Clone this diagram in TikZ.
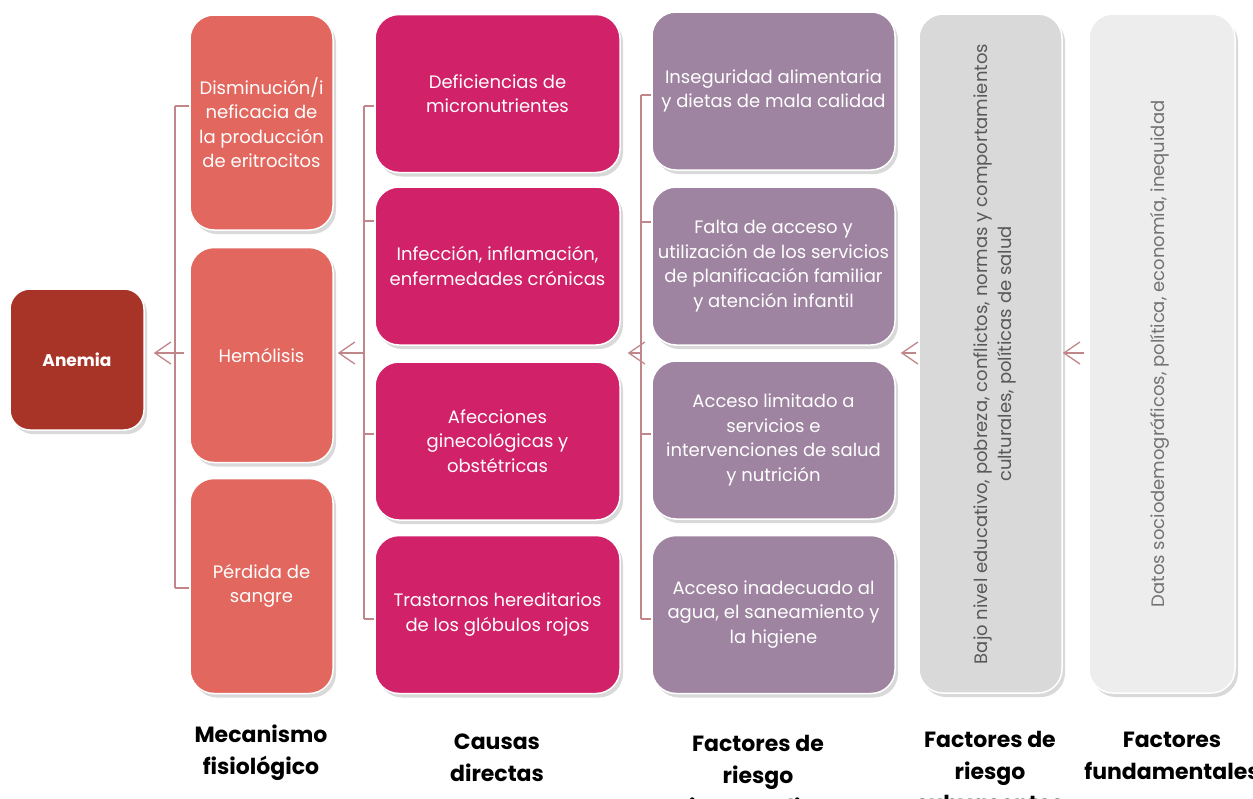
\documentclass[tikz,border=0pt]{standalone}
\usepackage{fontspec}
\setmainfont{Poppins}
\usepackage{tikz}
\usetikzlibrary{arrows.meta, shadows}

\definecolor{anemiared}{RGB}{168,52,40}
\definecolor{mecsalmon}{RGB}{226,103,94}
\definecolor{causapink}{RGB}{209,33,104}
\definecolor{riesgomauve}{RGB}{158,132,160}
\definecolor{subgray}{RGB}{217,217,217}
\definecolor{fundgray}{RGB}{237,237,237}
\definecolor{linkrose}{RGB}{192,134,138}

\tikzset{
  colbox/.style={rounded corners=24pt, draw=white, line width=1.5pt, align=center,
    inner sep=2pt, text=white, font=\fontsize{18}{24.5}\selectfont,
    drop shadow={shadow xshift=3pt, shadow yshift=-4pt, opacity=0.3}},
  link/.style={draw=linkrose, line width=1.3pt},
  arrowlink/.style={link, -{Straight Barb[length=16pt, width=22pt]}},
  sidetext/.style={rotate=90, align=center, inner sep=0pt, font=\fontsize{18}{24.5}\selectfont},
  lbl/.style={align=center, anchor=base, inner sep=0pt, font=\fontsize{22}{32}\selectfont\bfseries}
}

\begin{document}
\begin{tikzpicture}[x=1pt, y=-1pt]
\useasboundingbox (0,0) rectangle (1253,798);
\clip (0,0) rectangle (1253,798);

\node[colbox, fill=anemiared, rounded corners=20pt, minimum width=134pt, minimum height=141pt, font=\fontsize{17}{24.5}\selectfont] (anemia) at (77,359.5) {\bfseries Anemia};

\begin{scope}[every node/.style={colbox, fill=mecsalmon, minimum width=143pt, minimum height=215pt}]
\node (m1) at (261.5,122.5) {Disminución/i\\neficacia de\\la producción\\de eritrocitos};
\node (m2) at (261.5,355) {Hemólisis};
\node (m3) at (261.5,586) {Pérdida de\\sangre};
\end{scope}

\begin{scope}[every node/.style={colbox, fill=causapink, minimum width=245pt, minimum height=158pt}]
\node (c1) at (497.5,93.5) {Deficiencias de\\micronutrientes};
\node (c2) at (497.5,266) {Infección, inflamación,\\enfermedades crónicas};
\node (c3) at (497.5,441) {Afecciones\\ginecológicas y\\obstétricas};
\node (c4) at (497.5,614.5) {Trastornos hereditarios\\de los glóbulos rojos};
\end{scope}

\begin{scope}[every node/.style={colbox, fill=riesgomauve, minimum width=243pt, minimum height=158pt}]
\node (r1) at (773.5,91) {Inseguridad alimentaria\\y dietas de mala calidad};
\node (r2) at (773.5,266) {Falta de acceso y\\utilización de los servicios\\de planificación familiar\\y atención infantil};
\node (r3) at (773.5,440) {Acceso limitado a\\servicios e\\intervenciones de salud\\y nutrición};
\node (r4) at (773.5,614.5) {Acceso inadecuado al\\agua, el saneamiento y\\la higiene};
\end{scope}

\node[colbox, fill=subgray, minimum width=143pt, minimum height=679pt] (sub) at (990.5,353.5) {};
\node[colbox, fill=fundgray, minimum width=146pt, minimum height=679pt] (fund) at (1162,353.5) {};
\node[sidetext, text=black!65] (subtext) at (995,354) {Bajo nivel educativo, pobreza, conflictos, normas y comportamientos\\culturales, políticas de salud};
\node[sidetext, text=black!55] (fundtext) at (1160,354) {Datos sociodemográficos, política, economía, inequidad};

\draw[link] (175,106) -- (175,588);
\foreach \n/\y in {m1/106, m3/588} {
  \coordinate (t) at (175,\y);
  \draw[link] (t) -- (\n.west |- t);
}
\draw[link] (364,106) -- (364,619);
\foreach \n/\y in {c1/106, c2/221, c3/434, c4/619} {
  \coordinate (t) at (364,\y);
  \draw[link] (t) -- (\n.west |- t);
}
\draw[link] (641,95) -- (641,619);
\foreach \n/\y in {r1/95, r2/222, r3/434, r4/619} {
  \coordinate (t) at (641,\y);
  \draw[link] (t) -- (\n.west |- t);
}

\coordinate (b2a) at (364,353);
\coordinate (b3a) at (641,353);
\draw[arrowlink, shorten <=5pt, shorten >=9pt] (m2.west |- b2a) -- (anemia.east |- b2a);
\draw[arrowlink, shorten >=4pt] (b2a) -- (m2.east |- b2a);
\draw[arrowlink, shorten >=7pt] (b3a) -- (c2.east |- b3a);
\draw[arrowlink, shorten <=2pt, shorten >=5pt] (sub.west |- b3a) -- (r2.east |- b3a);
\draw[arrowlink, shorten <=4pt] (fund.west |- b3a) -- (sub.east |- b3a);

\node[lbl] (lm) at (261,774) {Mecanismo\\fisiológico};
\node[lbl] (lc) at (497,781) {Causas\\directas};
\node[lbl] (lr) at (758,815) {Factores de\\riesgo\\intermedios};
\node[lbl] (ls) at (990,811) {Factores de\\riesgo\\subyacentes};
\node[lbl] (lf) at (1172,779) {Factores\\fundamentales};

\end{tikzpicture}
\end{document}
